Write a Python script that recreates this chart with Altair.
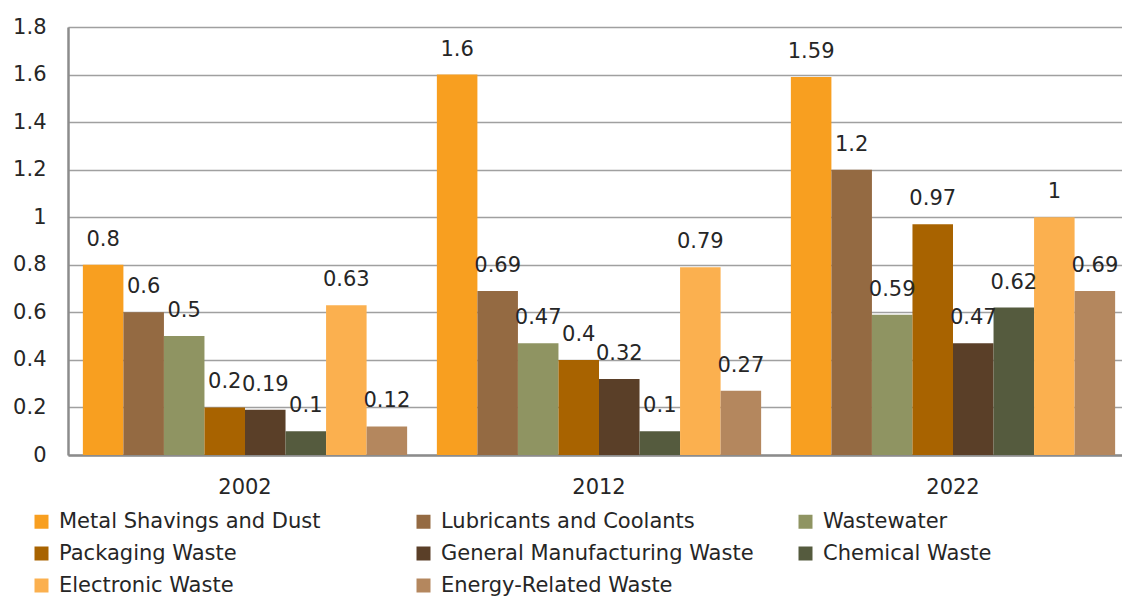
import altair as alt
import pandas as pd

years = ["2002", "2012", "2022"]
series = [
    "Metal Shavings and Dust",
    "Lubricants and Coolants",
    "Wastewater",
    "Packaging Waste",
    "General Manufacturing Waste",
    "Chemical Waste",
    "Electronic Waste",
    "Energy-Related Waste",
]
colors = ["#F89F20", "#946A42", "#8F9462", "#A86300", "#5A3F28", "#555B3E", "#FBB04F", "#B4875E"]

metal = [0.8, 1.6, 1.59]
lubricants = [0.6, 0.69, 1.2]
wastewater = [0.5, 0.47, 0.59]
packaging = [0.2, 0.4, 0.97]
general = [0.19, 0.32, 0.47]
chemical = [0.1, 0.1, 0.62]
electronic = [0.63, 0.79, 1.0]
energy = [0.12, 0.27, 0.69]

values = [metal, lubricants, wastewater, packaging, general, chemical, electronic, energy]

rows = []
for s, vals in zip(series, values):
    for y, v in zip(years, vals):
        rows.append({"year": y, "series": s, "value": v, "label": f"{v:g}"})
df = pd.DataFrame(rows)

FONT = "DejaVu Sans"
TXT = "#262626"
FS = 21

xscale = alt.Scale(paddingInner=0.084, paddingOuter=0.042, range=[0, 1062])
x_enc = alt.X(
    "year:N",
    sort=years,
    scale=xscale,
    axis=alt.Axis(
        title=None, labelAngle=0, ticks=False, labelPadding=21,
        labelFontSize=FS, labelFont=FONT, labelColor=TXT,
        domainColor="#8C8C8C", domainWidth=2.5, grid=False,
    ),
)
xoff = alt.XOffset("series:N", sort=series, scale=alt.Scale(paddingInner=0, paddingOuter=0))
y_enc = alt.Y(
    "value:Q",
    scale=alt.Scale(domain=[0, 1.8], nice=False),
    axis=alt.Axis(
        title=None, values=[0, 0.2, 0.4, 0.6, 0.8, 1.0, 1.2, 1.4, 1.6, 1.8],
        format="~g", ticks=False, labelPadding=22,
        labelFontSize=FS, labelFont=FONT, labelColor=TXT,
        domainColor="#8C8C8C", domainWidth=2.5,
        grid=True, gridColor="#A0A0A0", gridWidth=1.6,
    ),
)

bars = alt.Chart(df).mark_bar().encode(
    x=x_enc,
    xOffset=xoff,
    y=y_enc,
    color=alt.Color(
        "series:N",
        sort=series,
        scale=alt.Scale(domain=series, range=colors),
        legend=alt.Legend(
            title=None, orient="none", legendX=-37, legendY=484,
            direction="horizontal", columns=3, gridAlign="all",
            columnPadding=41, rowPadding=10,
            symbolType="square", symbolSize=196, symbolStrokeWidth=0,
            symbolOpacity=1, labelFontSize=FS, labelFont=FONT, labelColor=TXT,
            labelOffset=7, labelLimit=500,
        ),
    ),
)

labels = alt.Chart(df).mark_text(
    fontSize=FS, font=FONT, color=TXT, baseline="alphabetic", align="center", dy=-19,
).encode(
    x=alt.X("year:N", sort=years, scale=xscale),
    xOffset=alt.XOffset("series:N", sort=series),
    y=alt.Y("value:Q"),
    text="label:N",
)

chart = (
    alt.layer(bars, labels)
    .properties(
        width=1054,
        height=428,
        autosize=alt.AutoSizeParams(type="none"),
        padding={"left": 60, "top": 19, "right": 0, "bottom": 142},
    )
    .configure_view(stroke=None)
    .configure(background="white")
)

chart.save("out.html", embed_options={"renderer": "svg", "actions": False})
